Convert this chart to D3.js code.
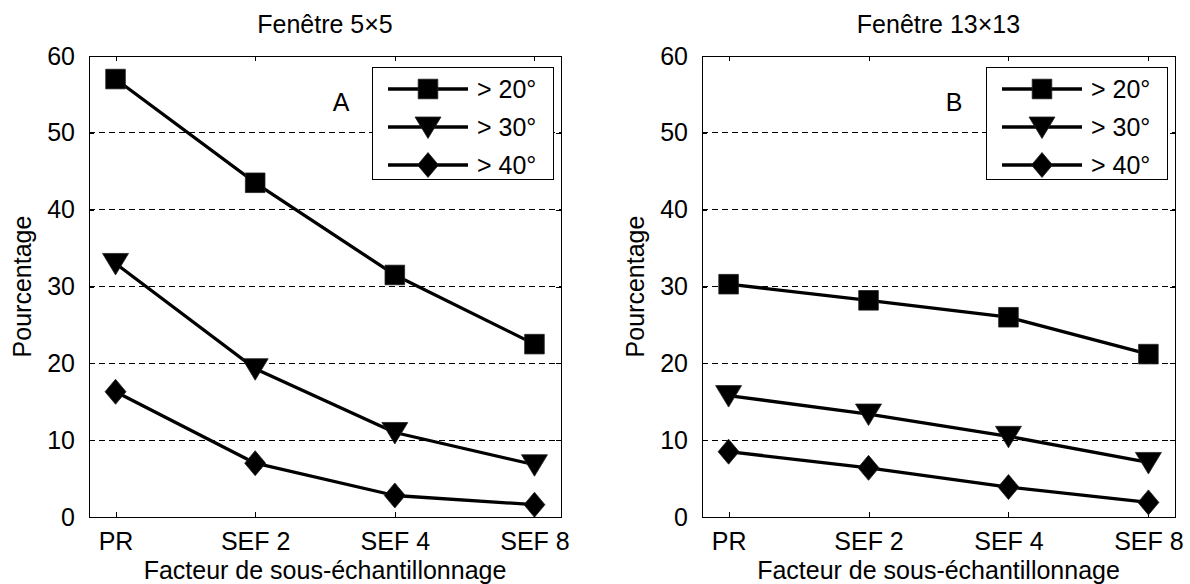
<!DOCTYPE html>
<html>
<head>
<meta charset="utf-8">
<script src="https://cdn.jsdelivr.net/npm/d3@7"></script>
<style>
  html, body { margin: 0; padding: 0; background: #fff; }
  svg { display: block; }
  text { font-family: "Liberation Sans", Arial, Helvetica, sans-serif; fill: #000; }
</style>
</head>
<body>
<svg id="chart" width="1190" height="584"></svg>
<script>
// ---- data ----
const categories = ["PR", "SEF 2", "SEF 4", "SEF 8"];
const yTickValues = [0, 10, 20, 30, 40, 50, 60];
const gridValues = [10, 20, 30, 40, 50];
const seriesNames = ["> 20°", "> 30°", "> 40°"];
const markerTypes = ["square", "triangle", "diamond"];
const panelTitles = ["Fenêtre 5×5", "Fenêtre 13×13"];
const panelLetters = ["A", "B"];
const xLabel = "Facteur de sous-échantillonnage";
const yLabel = "Pourcentage";

const panelA_20 = [57.0, 43.5, 31.5, 22.5];
const panelA_30 = [33.0, 19.3, 11.0, 6.8];
const panelA_40 = [16.3, 7.0, 2.8, 1.6];

const panelB_20 = [30.3, 28.2, 26.0, 21.2];
const panelB_30 = [15.8, 13.4, 10.5, 7.1];
const panelB_40 = [8.5, 6.4, 3.9, 1.9];

const panels = [
  { title: panelTitles[0], letter: panelLetters[0], series: [panelA_20, panelA_30, panelA_40], left: 89, right: 561 },
  { title: panelTitles[1], letter: panelLetters[1], series: [panelB_20, panelB_30, panelB_40], left: 702, right: 1175 }
];

// ---- layout ----
const plotTop = 56, plotBottom = 517;
const FS = "25px";
const svg = d3.select("#chart");

function markerPath(type) {
  const p = d3.path();
  if (type === "square") {
    const s = 9.8;
    p.moveTo(-s, -s); p.lineTo(s, -s); p.lineTo(s, s); p.lineTo(-s, s); p.closePath();
  } else if (type === "triangle") {
    p.moveTo(-13, -10); p.lineTo(13, -10); p.lineTo(0, 11.5); p.closePath();
  } else {
    p.moveTo(0, -12.5); p.lineTo(10.5, 0); p.lineTo(0, 12.5); p.lineTo(-10.5, 0); p.closePath();
  }
  return p.toString();
}

panels.forEach(panel => {
  const g = svg.append("g");
  const x = d3.scalePoint().domain(categories).range([panel.left, panel.right]).padding(0.19);
  const y = d3.scaleLinear().domain([0, 60]).range([plotBottom, plotTop]);

  // grid
  g.append("g").selectAll("line").data(gridValues).join("line")
    .attr("x1", panel.left).attr("x2", panel.right)
    .attr("y1", d => y(d)).attr("y2", d => y(d))
    .attr("stroke", "#000").attr("stroke-width", 1)
    .attr("stroke-dasharray", "6,4")
    .attr("shape-rendering", "crispEdges");

  // axes (ticks inside)
  const axL = g.append("g").attr("transform", `translate(${panel.left},0)`)
    .call(d3.axisLeft(y).tickValues(yTickValues).tickSizeInner(-5).tickSizeOuter(0).tickPadding(14));
  const axR = g.append("g").attr("transform", `translate(${panel.right},0)`)
    .call(d3.axisRight(y).tickValues(yTickValues).tickSizeInner(-5).tickSizeOuter(0).tickFormat(""));
  const axB = g.append("g").attr("transform", `translate(0,${plotBottom})`)
    .call(d3.axisBottom(x).tickSizeInner(-5).tickSizeOuter(0).tickPadding(15));
  const axT = g.append("g").attr("transform", `translate(0,${plotTop})`)
    .call(d3.axisTop(x).tickSizeInner(-5).tickSizeOuter(0).tickFormat(""));
  [axL, axR, axB, axT].forEach(a => {
    a.select(".domain").remove();
    a.selectAll("line").attr("stroke", "#000").attr("shape-rendering", "crispEdges");
  });
  axL.selectAll("text").style("font-size", FS).attr("fill", "#000")
    .style("font-family", '"Liberation Sans", Arial, sans-serif');
  axB.selectAll("text").style("font-size", FS).attr("fill", "#000")
    .style("font-family", '"Liberation Sans", Arial, sans-serif');

  // box
  g.append("rect").attr("x", panel.left).attr("y", plotTop)
    .attr("width", panel.right - panel.left).attr("height", plotBottom - plotTop)
    .attr("fill", "none").attr("stroke", "#000").attr("stroke-width", 1)
    .attr("shape-rendering", "crispEdges");

  // series
  const line = d3.line().x((d, i) => x(categories[i])).y(d => y(d));
  panel.series.forEach((vals, si) => {
    g.append("path").datum(vals).attr("d", line)
      .attr("fill", "none").attr("stroke", "#000").attr("stroke-width", 3.3)
      .attr("stroke-linejoin", "round");
    g.append("g").selectAll("path").data(vals).join("path")
      .attr("transform", (d, i) => `translate(${x(categories[i])},${y(d)})`)
      .attr("d", markerPath(markerTypes[si]))
      .attr("fill", "#000").attr("stroke", "#222").attr("stroke-width", 0.8);
  });

  // title, labels
  const cx = (panel.left + panel.right) / 2;
  g.append("text").attr("x", cx).attr("y", 33).attr("text-anchor", "middle")
    .style("font-size", FS).text(panel.title);
  g.append("text").attr("x", cx).attr("y", 579).attr("text-anchor", "middle")
    .style("font-size", FS).text(xLabel);
  g.append("text").attr("transform", `translate(${panel.left - 58},${(plotTop + plotBottom) / 2}) rotate(-90)`)
    .attr("text-anchor", "middle").style("font-size", FS).text(yLabel);
  g.append("text").attr("x", panel.left + 252).attr("y", 111).attr("text-anchor", "middle")
    .style("font-size", FS).text(panel.letter);

  // legend
  const lw = 181, lh = 112;
  const lx = panel.right - 8 - lw, ly = 67;
  const lg = g.append("g").attr("transform", `translate(${lx},${ly})`);
  lg.append("rect").attr("width", lw).attr("height", lh)
    .attr("fill", "#fff").attr("stroke", "#000").attr("stroke-width", 1)
    .attr("shape-rendering", "crispEdges");
  seriesNames.forEach((name, si) => {
    const ry = 22 + si * 38;
    lg.append("line").attr("x1", 16).attr("x2", 96).attr("y1", ry).attr("y2", ry)
      .attr("stroke", "#000").attr("stroke-width", 3.3);
    lg.append("path").attr("transform", `translate(56,${ry})`).attr("d", markerPath(markerTypes[si]))
      .attr("fill", "#000").attr("stroke", "#222").attr("stroke-width", 0.8);
    lg.append("text").attr("x", 105).attr("y", ry).attr("dy", "0.36em")
      .style("font-size", FS).text(name);
  });
});
</script>
</body>
</html>
